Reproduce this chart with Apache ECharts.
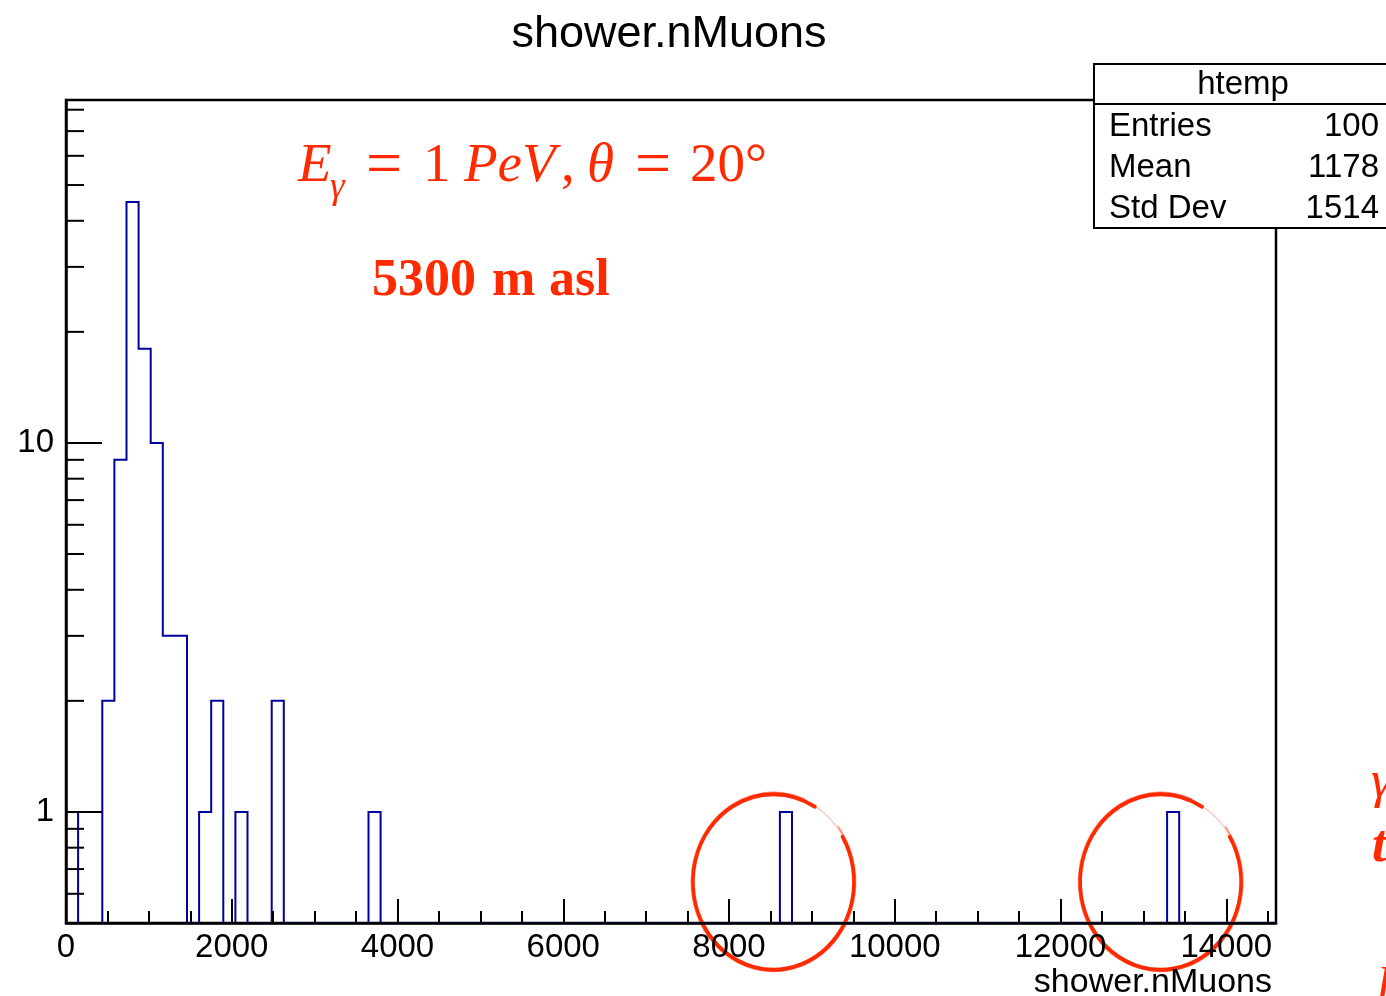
<!DOCTYPE html>
<html>
<head>
<meta charset="utf-8">
<title>shower.nMuons</title>
<script src="https://cdn.jsdelivr.net/npm/echarts@6/dist/echarts.min.js"></script>
<style>
  html, body { margin: 0; padding: 0; background: #fff; }
  #chart { width: 1386px; height: 996px; }
</style>
</head>
<body>
<div id="chart"></div>
<script>
// Histogram of shower.nMuons: 100 bins of width 146 from 0 to 14600
const binLow = 0;
const binHigh = 14600;
const binCounts = [
  1, 0, 0, 2, 9, 45, 18, 10, 3, 3,
  0, 1, 2, 0, 1, 0, 0, 2, 0, 0,
  0, 0, 0, 0, 0, 1, 0, 0, 0, 0,
  0, 0, 0, 0, 0, 0, 0, 0, 0, 0,
  0, 0, 0, 0, 0, 0, 0, 0, 0, 0,
  0, 0, 0, 0, 0, 0, 0, 0, 0, 1,
  0, 0, 0, 0, 0, 0, 0, 0, 0, 0,
  0, 0, 0, 0, 0, 0, 0, 0, 0, 0,
  0, 0, 0, 0, 0, 0, 0, 0, 0, 0,
  0, 1, 0, 0, 0, 0, 0, 0, 0, 0
];
// bins singled out with hand-drawn circles
const circledBins = [59, 91];

// axis ranges and ticks
const yRange = [0.5, 85];
const xMajorStep = 2000;
const xMinorStep = 500;
const yLabelled = [1, 10];
const yMinorTicks = [0.6, 0.7, 0.8, 0.9, 2, 3, 4, 5, 6, 7, 8, 9, 20, 30, 40, 50, 60, 70, 80];

// statistics box
const statsName = 'htemp';
const statsLabels = ['Entries', 'Mean', 'Std Dev'];
const statsMean = 1178;
const statsStdDev = 1514;

const binWidth = (binHigh - binLow) / binCounts.length;
const entries = binCounts.reduce((a, b) => a + b, 0);
const statsValues = [String(entries), String(statsMean), String(statsStdDev)];

const SANS = '"Liberation Sans", Arial, Helvetica, sans-serif';
const SERIF = '"Liberation Serif", "Times New Roman", Times, serif';
const HIST_BLUE = '#00009c';
const NOTE_RED = '#ff2a00';

const chart = echarts.init(document.getElementById('chart'), null, { renderer: 'canvas' });

const option = {
  animation: false,
  backgroundColor: '#ffffff',
  grid: {
    show: true,
    left: 66, top: 100, width: 1210, height: 823,
    borderColor: '#000', borderWidth: 2.5,
    backgroundColor: 'transparent',
    containLabel: false,
    outerBoundsMode: 'none'
  },
  xAxis: [
    {
      type: 'value', min: binLow, max: binHigh, interval: xMajorStep, z: 10,
      axisLine: { show: true, onZero: false, lineStyle: { color: '#000', width: 2.5 } },
      axisTick: { show: true, inside: true, length: 24, lineStyle: { color: '#000', width: 2 } },
      axisLabel: {
        color: '#000', fontFamily: SANS, fontSize: 33, margin: 8,
        formatter: v => (v % xMajorStep === 0 ? String(v) : '')
      },
      splitLine: { show: false }
    },
    {
      // minor ticks every 500
      type: 'value', min: binLow, max: binHigh, interval: xMinorStep, position: 'bottom', z: 10,
      axisLine: { show: false },
      axisTick: { show: true, inside: true, length: 12, lineStyle: { color: '#000', width: 2 } },
      axisLabel: { show: false },
      splitLine: { show: false }
    }
  ],
  yAxis: {
    type: 'log', logBase: 10, min: yRange[0], max: yRange[1], z: 10,
    axisLine: { show: true, onZero: false, lineStyle: { color: '#000', width: 2.5 } },
    axisTick: { show: true, inside: true, length: 36, lineStyle: { color: '#000', width: 2 } },
    axisLabel: {
      color: '#000', fontFamily: SANS, fontSize: 33, margin: 12,
      formatter: v => {
        const hit = yLabelled.find(t => Math.abs(v - t) < 1e-6 * t);
        return hit !== undefined ? String(hit) : '';
      }
    },
    splitLine: { show: false },
    minorTick: { show: false }
  },
  series: [
    {
      // histogram outline drawn as one stepped polyline
      type: 'custom',
      coordinateSystem: 'cartesian2d',
      xAxisIndex: 0, yAxisIndex: 0,
      data: [[binLow, yRange[0]]],
      silent: true,
      z: 1,
      renderItem(params, api) {
        const bottom = api.coord([binLow, yRange[0]])[1];
        const yOf = c => (c > 0 ? api.coord([binLow, c])[1] : bottom);
        const pts = [];
        let prev = 0;
        binCounts.forEach((c, i) => {
          const xl = api.coord([binLow + i * binWidth, yRange[0]])[0];
          const xr = api.coord([binLow + (i + 1) * binWidth, yRange[0]])[0];
          pts.push([xl, yOf(prev)]);
          pts.push([xl, yOf(c)]);
          pts.push([xr, yOf(c)]);
          prev = c;
        });
        pts.push([pts[pts.length - 1][0], bottom]);
        return {
          type: 'polyline',
          shape: { points: pts },
          style: { stroke: HIST_BLUE, lineWidth: 2, fill: null, lineJoin: 'miter' }
        };
      }
    },
    {
      // log-axis minor ticks (2..9 within each decade)
      type: 'custom',
      coordinateSystem: 'cartesian2d',
      xAxisIndex: 0, yAxisIndex: 0,
      data: yMinorTicks.map(v => [binLow, v]),
      silent: true,
      z: 12,
      renderItem(params, api) {
        const p = api.coord([api.value(0), api.value(1)]);
        return {
          type: 'line',
          shape: { x1: p[0], y1: p[1], x2: p[0] + 18, y2: p[1] },
          style: { stroke: '#000', lineWidth: 2 }
        };
      }
    }
  ]
};

chart.setOption(option);

// Annotations placed relative to the axes
function buildGraphics() {
  const toPx = (x, y) => chart.convertToPixel({ gridIndex: 0 }, [x, y]);
  const els = [];

  // title and axis title
  els.push({
    type: 'text', z: 20,
    style: { text: 'shower.nMuons', x: 669, y: 35, textAlign: 'center', textVerticalAlign: 'middle',
             font: '45px ' + SANS, fill: '#000' }
  });
  const axisEnd = toPx(binHigh, yRange[0]);
  els.push({
    type: 'text', z: 20,
    style: { text: 'shower.nMuons', x: axisEnd[0] - 4, y: 983, textAlign: 'right', textVerticalAlign: 'middle',
             font: '34px ' + SANS, fill: '#000' }
  });

  // statistics box
  const bx = 1094, by = 64, bw = 298, rowH = 41;
  els.push({
    type: 'group', z: 30,
    children: [
      { type: 'rect', shape: { x: bx, y: by, width: bw, height: 40 + 3 * rowH + 1 },
        style: { fill: '#fff', stroke: '#000', lineWidth: 2 } },
      { type: 'line', shape: { x1: bx, y1: by + 40, x2: bx + bw, y2: by + 40 },
        style: { stroke: '#000', lineWidth: 2 } },
      { type: 'text', style: { text: statsName, x: bx + bw / 2, y: by + 21, textAlign: 'center',
        textVerticalAlign: 'middle', font: '33px ' + SANS, fill: '#000' } }
    ].concat(statsLabels.map((lab, k) => ({
      type: 'text', style: { text: lab, x: bx + 15, y: by + 40 + rowH * (k + 0.5) + 2,
        textAlign: 'left', textVerticalAlign: 'middle', font: '33px ' + SANS, fill: '#000' }
    }))).concat(statsValues.map((val, k) => ({
      type: 'text', style: { text: val, x: bx + 285, y: by + 40 + rowH * (k + 0.5) + 2,
        textAlign: 'right', textVerticalAlign: 'middle', font: '33px ' + SANS, fill: '#000' }
    })))
  });

  // physics annotation, typeset piece by piece (math italic / upright / subscript)
  const fIt = 'italic 55px ' + SERIF;
  const fUp = '55px ' + SERIF;
  const fRel = '64px ' + SERIF;
  const mainY = 167;
  const formula = [
    { t: 'E', x: 298, f: fIt, y: mainY },
    { t: 'γ', x: 330, f: 'italic 37px ' + SERIF, y: 188 },
    { t: '=', x: 366, f: fRel, y: mainY },
    { t: '1', x: 423, f: fUp, y: mainY },
    { t: 'PeV', x: 464, f: fIt, y: mainY },
    { t: ',', x: 561, f: fUp, y: mainY },
    { t: 'θ', x: 587, f: fIt, y: mainY },
    { t: '=', x: 635, f: fRel, y: mainY },
    { t: '20°', x: 690, f: fUp, y: mainY }
  ];
  formula.forEach(p => els.push({
    type: 'text', z: 20,
    style: { text: p.t, x: p.x, y: p.y, textAlign: 'left', textVerticalAlign: 'middle', font: p.f, fill: NOTE_RED }
  }));

  const fBold = 'bold 52px ' + SERIF;
  [['5300', 372], ['m', 492], ['asl', 549]].forEach(([t, x]) => els.push({
    type: 'text', z: 20,
    style: { text: t, x: x, y: 282, textAlign: 'left', textVerticalAlign: 'middle', font: fBold, fill: NOTE_RED }
  }));

  // fragments of slide text running off the right edge
  els.push({ type: 'text', z: 20, style: { text: 'γ', x: 1371, y: 783, textVerticalAlign: 'middle',
    font: 'italic 52px ' + SERIF, fill: NOTE_RED } });
  els.push({ type: 'text', z: 20, style: { text: 't', x: 1372, y: 848, textVerticalAlign: 'middle',
    font: 'italic bold 52px ' + SERIF, fill: NOTE_RED } });
  els.push({ type: 'text', z: 20, style: { text: 'l', x: 1376, y: 990, textVerticalAlign: 'middle',
    font: 'italic 52px ' + SERIF, fill: NOTE_RED } });

  // hand-drawn circles around the outlying bins
  const one = toPx(binLow, 1)[1];
  circledBins.forEach(b => {
    const cx = toPx(binLow + (b + 0.5) * binWidth, 1)[0] - 12.5;
    const cy = one + 70;
    const deg = Math.PI / 180;
    els.push({
      type: 'group', x: cx, y: cy, scaleY: 1.09, z: 25,
      children: [
        { type: 'arc', shape: { cx: 0, cy: 0, r: 80.5, startAngle: -31 * deg, endAngle: 301 * deg, clockwise: true },
          style: { stroke: NOTE_RED, lineWidth: 3.6, fill: null, lineCap: 'round' } },
        { type: 'arc', shape: { cx: 0, cy: 0, r: 82.2, startAngle: -38 * deg, endAngle: 292 * deg, clockwise: true },
          style: { stroke: NOTE_RED, lineWidth: 1.4, fill: null, opacity: 0.55, lineCap: 'round' } },
        { type: 'arc', shape: { cx: 0, cy: 0, r: 81, startAngle: -59 * deg, endAngle: -31 * deg, clockwise: true },
          style: { stroke: NOTE_RED, lineWidth: 1.2, fill: null, opacity: 0.3 } }
      ]
    });
  });
  return els;
}

chart.setOption({ graphic: buildGraphics() });
</script>
</body>
</html>
